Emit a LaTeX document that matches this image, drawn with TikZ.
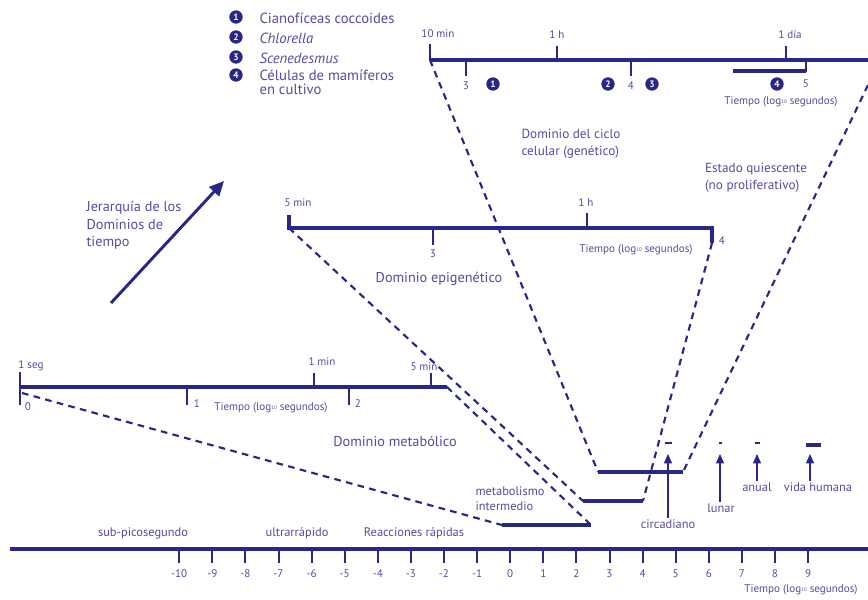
\documentclass[tikz,border=0pt]{standalone}
\usepackage{fontspec}
\setmainfont{PT Sans}
\usetikzlibrary{calc, positioning}
\usetikzlibrary{arrows.meta}

\definecolor{navy}{RGB}{40,38,135}
\definecolor{lblblue}{RGB}{86,74,160}

\tikzset{
  axis/.style={navy, line width=2.4pt},
  tick/.style={navy, line width=1.5pt},
  link/.style={navy, line width=1.6pt, dash pattern=on 5pt off 4pt},
  rangebar/.style={navy, line width=3.6pt},
  lbl/.style={text=lblblue, font=\fontsize{10.7}{13}\selectfont, inner sep=1pt},
  legend/.style={lbl, font=\fontsize{11}{11}\selectfont},
  note/.style={lbl, font=\fontsize{9.9}{12.5}\selectfont},
  mid/.style={text=lblblue, font=\fontsize{9.3}{11}\selectfont, inner sep=1pt},
  small/.style={text=lblblue, font=\fontsize{8.3}{9.5}\selectfont, inner sep=1pt},
  num/.style={circle, fill=navy, text=white, inner sep=0pt, minimum size=10pt,
    font=\bfseries\fontsize{7}{7}\selectfont},
  cyclearrow/.style={navy, line width=0.9pt, -{Triangle[width=6pt,length=7pt]}},
}
\newcommand{\tiempo}{Tiempo (log\raisebox{0.25ex}{\fontsize{3.8}{4}\selectfont 10} segundos)}

\begin{document}
\begin{tikzpicture}[x=0.75pt,y=-0.75pt]
\useasboundingbox (0,0) rectangle (868,600);

% Legend of the cell types.
\node[num] (n1) at (236,17) {1};
\node[num] (n2) at (236,37) {2};
\node[num] (n3) at (236,57) {3};
\node[num] (n4) at (236,75) {4};
\node[legend,anchor=west] (leg1) at (258,18) {Cianofíceas coccoides};
\node[legend,anchor=west] (leg2) at (258,38) {\itshape Chlorella};
\node[legend,anchor=west] (leg3) at (258,58) {\itshape Scenedesmus};
\node[legend,anchor=north west,align=left] (leg4) at (258,68) {Células de mamíferos\\en cultivo};

% Cell-cycle axis (top).
\coordinate (CL) at (430,60);
\coordinate (CR) at (872,60);
\coordinate (CRd) at (868,85);
\draw[axis] (CL) -- (CR);
\draw[tick] (430,61) -- (430,44);
\draw[tick] (557,60) -- (557,46);
\draw[tick] (786,60) -- (786,46);
\draw[tick] (466,60) -- (466,76);
\draw[tick] (631,60) -- (631,76);
\draw[tick] (806,60) -- (806,72);
\node[small] (c10min) at (438,34) {10 min};
\node[small] (c1h) at (557,35) {1 h};
\node[small] (c1dia) at (790,35) {1 día};
\node[small] (c3) at (466,86) {3};
\node[small] (c4) at (631,86) {4};
\node[small] (c5) at (806,84) {5};
\node[num] (m1) at (493,84) {1};
\node[num] (m2) at (608,84) {2};
\node[num] (m3) at (652,84) {3};
\node[num] (m4) at (777,84) {4};
\coordinate (R4a) at (733,71);
\coordinate (R4b) at (806,71);
\draw[rangebar] (R4a) -- (R4b);
\node[small] (ctiempo) at (781,102) {\tiempo};

% Epigenetic axis (middle).
\coordinate (EL) at (289,228);
\coordinate (ER) at (712,228);
\coordinate (ERd) at (712,243);
\draw[axis] (EL) -- (ER);
\draw[line width=2.6pt,navy] (289,230) -- (289,215);
\draw[line width=2.6pt,navy] (712,226) -- (712,243);
\draw[tick] (587,228) -- (587,213);
\draw[tick] (433,228) -- (433,245);
\node[small] (e5min) at (298,203) {5 min};
\node[small] (e1h) at (586,203) {1 h};
\node[small] (e3) at (433,254) {3};
\node[small] (e4) at (722,241) {4};
\node[small] (etiempo) at (636,250) {\tiempo};

% Metabolic axis (lower).
\coordinate (ML) at (20,387);
\coordinate (MLd) at (22,393);
\coordinate (MR) at (447,387);
\draw[axis] (ML) -- (MR);
\draw[tick] (20,372) -- (20,405);
\draw[tick] (314,387) -- (314,373);
\draw[tick] (431,387) -- (431,373);
\draw[tick] (187,387) -- (187,405);
\draw[tick] (349,387) -- (349,405);
\node[small] (m1seg) at (31,366) {1 seg};
\node[small] (m1min) at (322,362) {1 min};
\node[small] (m5min) at (424,367) {5 min};
\node[small] (m0) at (28,407) {0};
\node[small] (mone) at (197,404) {1};
\node[small] (mtwo) at (358,404) {2};
\node[small] (mtiempo) at (271,408) {\tiempo};

% Range bars above the main axis.
\coordinate (B1a) at (502,525);
\coordinate (B1b) at (591,525);
\coordinate (B2a) at (583,501);
\coordinate (B2b) at (643,501);
\coordinate (B3a) at (598,472);
\coordinate (B3b) at (683,472);
\draw[rangebar] (B1a) -- (B1b);
\draw[rangebar] (B2a) -- (B2b);
\draw[rangebar] (B3a) -- (B3b);

% Zoom lines from each domain down to its range.
\draw[link] (MLd) -- (B1a);
\draw[link] (MR) -- (B1b);
\draw[link] (EL) -- (B2a);
\draw[link] (ERd) -- (B2b);
\draw[link] (CL) -- (B3a);
\draw[link] (CRd) -- (B3b);

% Domain names.
\node[lbl] (dmet) at (395,441) {Dominio metabólico};
\node[lbl] (depi) at (439,279) {Dominio epigenético};
\node[note,align=left] (dcic) at (571,144) {Dominio del ciclo\\celular (genético)};
\node[note,align=left] (dqui) at (756,178) {Estado quiescente\\(no proliferativo)};
\node[mid,align=left] (dint) at (510,499) {metabolismo\\intermedio};

% Hierarchy arrow.
\node[lbl,align=left,anchor=north west] (hier) at (85,200) {Jerarquía de los\\Dominios de\\tiempo};
\coordinate (H0) at (111,303);
\coordinate (H1) at (224,181);
\draw[navy,line width=2.2pt,-{Triangle[width=10pt,length=11pt]}] (H0) -- (H1);

% Main time axis.
\coordinate (A0) at (10,549);
\coordinate (A1) at (870,549);
\draw[axis] (A0) -- (A1);
\foreach \k in {-10,...,9}{
  \draw[tick] ({510.2+33.1*\k},549) -- ({510.2+33.1*\k},563)
    node[small,below=3pt] (t\k) {\k};
}
\node[small] (atiempo) at (801,590) {\tiempo};
\node[mid] (subpico) at (143,533) {sub-picosegundo};
\node[mid] (ultra) at (297,533) {ultrarrápido};
\node[mid] (rapidas) at (414,533) {Reacciones rápidas};

% Biological rhythms.
\draw[rangebar,line width=2pt] (665,443) -- (672,443);
\draw[rangebar,line width=2pt] (719,443) -- (722,443);
\draw[rangebar,line width=2pt] (755,443) -- (760,443);
\draw[rangebar] (806,445) -- (821,445);
\node[mid] (circ) at (668,524) {circadiano};
\node[mid] (lunar) at (721,508) {lunar};
\node[mid] (anual) at (757,487) {anual};
\node[mid] (vida) at (818,487) {vida humana};
\coordinate (circT) at (668,454);
\coordinate (lunarT) at (720,454);
\coordinate (anualT) at (757,454);
\coordinate (vidaT) at (810,454);
\draw[cyclearrow] (circ.north) -- (circT);
\draw[cyclearrow] (lunar.north -| lunarT) -- (lunarT);
\draw[cyclearrow] (anual.north) -- (anualT);
\draw[cyclearrow] (vida.north -| vidaT) -- (vidaT);
\end{tikzpicture}
\end{document}
